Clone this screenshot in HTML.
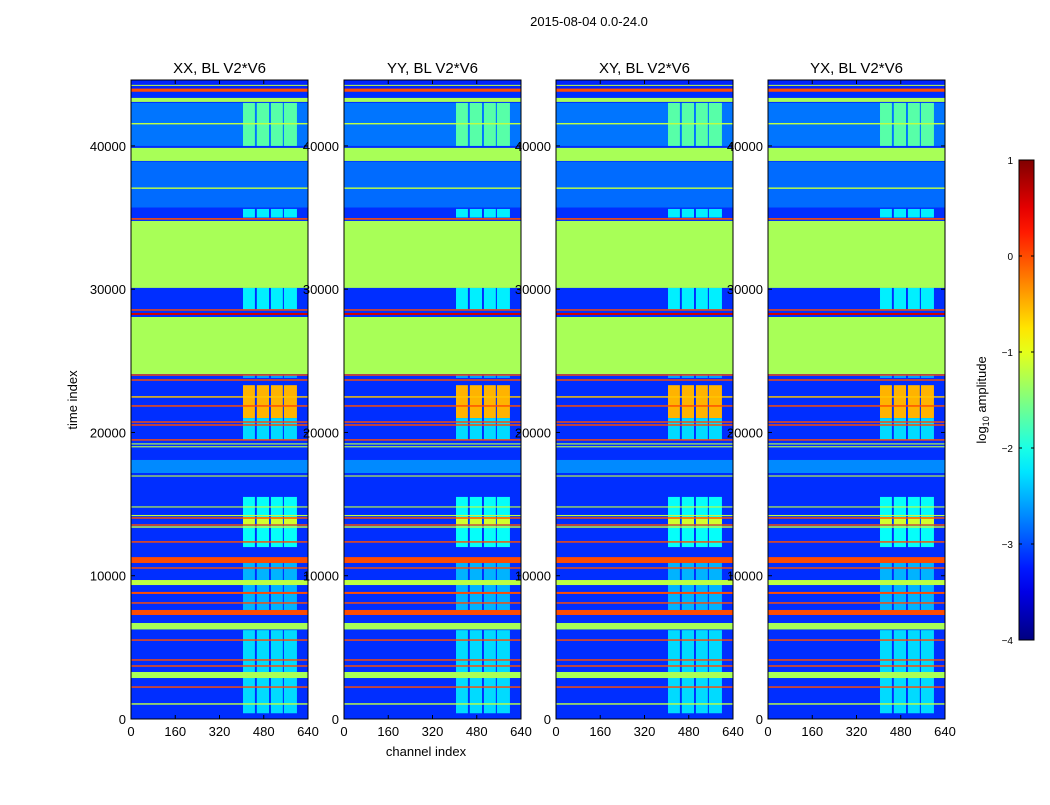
<!DOCTYPE html>
<html><head><meta charset="utf-8"><style>
body{margin:0;background:#fff;font-family:"Liberation Sans",sans-serif}
svg text{font-family:"Liberation Sans",sans-serif}
</style></head><body>
<svg id="fig" width="1050" height="800" xmlns="http://www.w3.org/2000/svg">
<rect width="1050" height="800" fill="#fff"/>
<text x="589" y="26" font-size="13" text-anchor="middle">2015-08-04 0.0-24.0</text>
<text x="426" y="756" font-size="13" text-anchor="middle">channel index</text>
<text transform="translate(77,400) rotate(-90)" font-size="13" text-anchor="middle">time index</text>
<text transform="translate(986,400) rotate(-90)" font-size="13" text-anchor="middle">log<tspan font-size="9" dy="3">10</tspan><tspan dy="-3"> amplitude</tspan></text>
<g id="panels"></g>
<g id="cbar"></g>
</svg>
<script>
const panelTitles=["XX, BL V2*V6","YY, BL V2*V6","XY, BL V2*V6","YX, BL V2*V6"];
const xTicks=[0,160,320,480,640];
const yTicks=[0,10000,20000,30000,40000];
const cbTicks=[1,0,-1,-2,-3,-4];
const bgT0=[40000,35700,17170,44000];
const bgT1=[43000,38900,18080,44600];
const bgVal=[-2.8,-2.85,-2.7,-3.2];
const blockCh0=[405,455,506,553];
const blockCh1=[448,499,549,600];
const blockT0=[40000,35000,28600,23800,21000,19500,12000,13600,7500,6300,400];
const blockT1=[43000,35600,30100,24000,23300,21000,15500,14100,11000,6600,6200];
const blockVal=[-1.7,-2.2,-2.2,-2.6,-0.5,-2.3,-2.1,-1.1,-2.5,-0.7,-2.3];
const solidT0=[43070,38950,30090,24080,2860];
const solidT1=[43350,39860,34760,28060,3280];
const solidVal=[-1.3,-1.3,-1.3,-1.3,-1.3];
const stripeT0=[43780,34850,28500,23960,23610,21800,20680,20470,19430,13980,13490,12310,10490,8050,5460,4070,3650,2180,10890,7260,8730,28200,22430,19160,18960,16920,14760,14160,13350,9350,6250,1000,44200,41500,37000];
const stripeT1=[44000,34960,28600,24060,23710,21900,20780,20570,19530,14080,13590,12410,10590,8150,5560,4170,3750,2280,11300,7610,8870,28340,22530,19240,19040,17000,14840,14240,13450,9700,6700,1100,44260,41600,37100];
const stripeVal=[0,0,0,0,0,0,0,0,0,0,0,0,0,0,0,0,0,0,0,0,0,0.6,-0.6,-1.2,-1.2,-1.2,-1.2,-1.2,-1.2,-1.2,-1.3,-1.2,-1.2,-1.2,-1.2];
const panelLeft=[131,344,556,768];
const PW=177,PT=80,PB=719,TMAX=44600,CMIN=-4,CMAX=1;
const NS="http://www.w3.org/2000/svg";
function jet(v){let t=Math.max(0,Math.min(1,(v-CMIN)/(CMAX-CMIN)));
 const c=x=>Math.max(0,Math.min(1,x));
 const r=c(Math.min(4*t-1.5,-4*t+4.5)),g=c(Math.min(4*t-0.5,-4*t+3.5)),b=c(Math.min(4*t+0.5,-4*t+2.5));
 return `rgb(${Math.round(r*255)},${Math.round(g*255)},${Math.round(b*255)})`;}
function mk(tag,attrs,parent){const e=document.createElementNS(NS,tag);for(const k in attrs)e.setAttribute(k,attrs[k]);parent.appendChild(e);return e;}
const yS=t=>PB-t/TMAX*(PB-PT);
const root=document.getElementById('panels');
panelLeft.forEach((L,p)=>{
 const xS=ch=>L+ch/640*PW;
 const g=mk('g',{},root);
 
 
 const bg=mk('rect',{x:L,y:PT,width:PW,height:PB-PT,fill:jet(-3.15)},g);
 
 
 const band=(t0,t1,v,c0,c1,name)=>{const r=mk('rect',{x:xS(c0),y:yS(t1),width:xS(c1)-xS(c0),height:Math.max(1,yS(t0)-yS(t1)),fill:jet(v)},g);
  
  };
 bgT0.forEach((t,i)=>band(t,bgT1[i],bgVal[i],0,640,'background-band'));
 blockT0.forEach((t,i)=>blockCh0.forEach((c,j)=>band(t,blockT1[i],blockVal[i],c,blockCh1[j],'channel-block')));
 solidT0.forEach((t,i)=>band(t,solidT1[i],solidVal[i],0,640,'flagged-band'));
 stripeT0.forEach((t,i)=>band(t,stripeT1[i],stripeVal[i],0,640,'rfi-stripe'));
 const fr=mk('rect',{x:L,y:PT,width:PW,height:PB-PT,fill:'none',stroke:'#000','stroke-width':1},g);
 
 
 const tt=mk('text',{x:L+PW/2,y:73,'font-size':15,'text-anchor':'middle'},g);tt.textContent=panelTitles[p];
 
 
 xTicks.forEach(v=>{const x=xS(v);
  mk('line',{x1:x,x2:x,y1:PB,y2:PB-4,stroke:'#000'},g);mk('line',{x1:x,x2:x,y1:PT,y2:PT+4,stroke:'#000'},g);
  const t=mk('text',{x:x,y:PB+17,'font-size':13,'text-anchor':'middle'},g);t.textContent=v;
  
  });
 yTicks.forEach(v=>{const y=yS(v);
  mk('line',{x1:L,x2:L+4,y1:y,y2:y,stroke:'#000'},g);mk('line',{x1:L+PW,x2:L+PW-4,y1:y,y2:y,stroke:'#000'},g);
  const t=mk('text',{x:L-5,y:y+5,'font-size':13,'text-anchor':'end'},g);t.textContent=v;
  
  });
});
const cb=document.getElementById('cbar');
const CX=1019,CW=15,CT=160,CB=640;
const defs=mk('defs',{},cb);const lg=mk('linearGradient',{id:'jetg',x1:0,y1:1,x2:0,y2:0},defs);
for(let i=0;i<=20;i++){mk('stop',{offset:i/20,'stop-color':jet(CMIN+(CMAX-CMIN)*i/20)},lg);}
const cr=mk('rect',{x:CX,y:CT,width:CW,height:CB-CT,fill:'url(#jetg)',stroke:'#000'},cb);


cbTicks.forEach(v=>{const y=CB-(v-CMIN)/(CMAX-CMIN)*(CB-CT);
 mk('line',{x1:CX,x2:CX+3,y1:y,y2:y,stroke:'#000'},cb);mk('line',{x1:CX+CW,x2:CX+CW-3,y1:y,y2:y,stroke:'#000'},cb);
 const t=mk('text',{x:1013,y:y+4,'font-size':10,'text-anchor':'end'},cb);t.textContent=v<0?'\u2212'+(-v):v;
 
 });
</script>
</body></html>
